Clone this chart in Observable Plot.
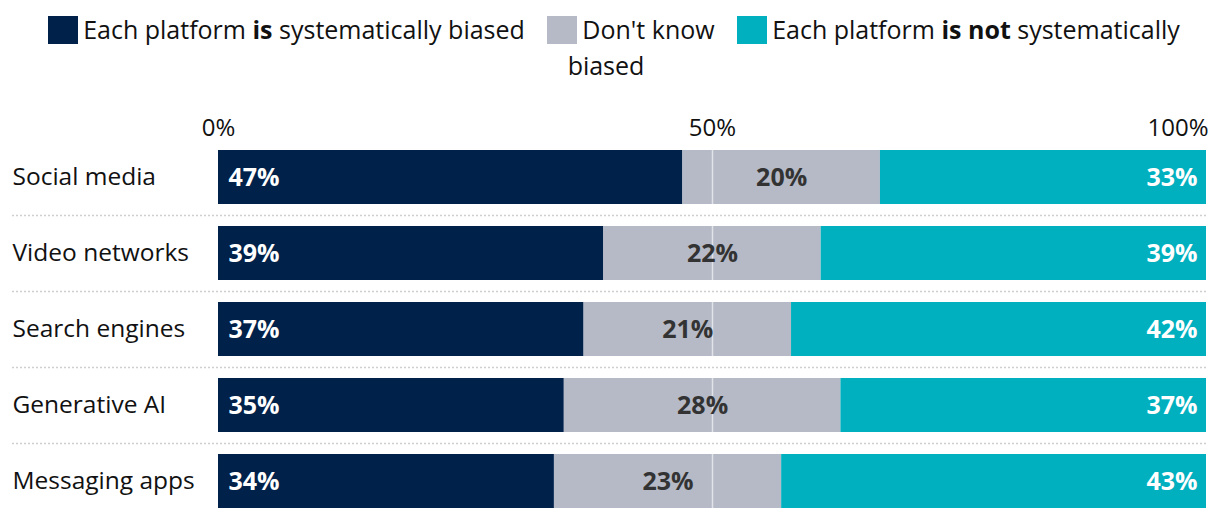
<!DOCTYPE html>
<html>
<head>
<meta charset="utf-8">
<script src="https://cdn.jsdelivr.net/npm/d3@7"></script>
<script src="https://cdn.jsdelivr.net/npm/@observablehq/plot@0.6"></script>
<style>
  body { margin: 0; background: #fff; font-family: "Open Sans", Roboto, sans-serif; color: #111; }
  #legend { width: 1220px; height: 100px; box-sizing: border-box; padding-top: 11px; text-align: center; font-size: 25px; line-height: 36px; }
  .item { white-space: nowrap; margin: 0 8px; }
  .sw { display: inline-block; width: 30px; height: 28px; vertical-align: -5px; margin-right: 5px; }
  #chart svg { display: block; }
</style>
</head>
<body>
<div id="legend"></div>
<div id="chart"></div>
<script>
const categories = ["Social media", "Video networks", "Search engines", "Generative AI", "Messaging apps"];
const isBiased = [47, 39, 37, 35, 34];
const dontKnow = [20, 22, 21, 28, 23];
const notBiased = [33, 39, 42, 37, 43];
const seriesNames = ["Each platform is systematically biased", "Don't know", "Each platform is not systematically biased"];
const legendLabels = ["Each platform <b>is</b> systematically biased", "Don't know", "Each platform <b>is not</b> systematically<br>biased"];
const colors = ["#00214a", "#b5bac6", "#00b0bf"];
const xTicks = [0, 50, 100];

// legend
const legend = document.getElementById("legend");
legend.innerHTML = seriesNames.map((s, i) =>
  `<span class="item"><span class="sw" style="background:${colors[i]}"></span>${legendLabels[i]}</span>`
).join(" ");

// table
const rows = [];
categories.forEach((c, i) => {
  const vals = [isBiased[i], dontKnow[i], notBiased[i]];
  let acc = 0;
  vals.forEach((v, j) => {
    rows.push({category: c, series: seriesNames[j], value: v, x1: acc, x2: acc + v, mid: acc + v / 2});
    acc += v;
  });
});
const byS = (j) => rows.filter(r => r.series === seriesNames[j]);

const font = "'Open Sans', Roboto, sans-serif";
const chart = Plot.plot({
  width: 1220,
  height: 420,
  marginLeft: 218,
  marginRight: 14,
  marginTop: 39,
  marginBottom: 1,
  style: {fontFamily: font, fontSize: "24px", background: "white"},
  x: {domain: [0, 100], axis: null},
  y: {domain: categories, paddingInner: 0.29, paddingOuter: 0.145, axis: null},
  color: {domain: seriesNames, range: colors},
  marks: [
    Plot.ruleY(categories.slice(0, -1), {y: d => d, dy: 38, insetLeft: -206, stroke: "#cfcfcf", strokeWidth: 1.5, strokeDasharray: "2,2"}),
    Plot.barX(rows, {x1: "x1", x2: "x2", y: "category", fill: "series"}),
    Plot.tickX(categories, {x: () => 50, y: d => d, stroke: "#e2e3e8", strokeWidth: 1.5}),
    Plot.text(categories, {y: d => d, text: d => d, frameAnchor: "left", dx: -206, textAnchor: "start", fill: "#111", fontSize: 24.5}),
    Plot.text(xTicks.filter(t => t < 100), {x: d => d, text: d => d + "%", frameAnchor: "top", dy: -21, fill: "#111", fontSize: 24}),
    Plot.text(xTicks.filter(t => t === 100), {x: d => d, text: d => d + "%", frameAnchor: "top", dy: -21, dx: 2, textAnchor: "end", fill: "#111", fontSize: 24}),
    Plot.text(byS(0), {x: "x1", y: "category", text: d => d.value + "%", textAnchor: "start", dx: 10, fill: "white", fontWeight: "bold", fontSize: 25}),
    Plot.text(byS(1), {x: "mid", y: "category", text: d => d.value + "%", fill: "#333", fontWeight: "bold", fontSize: 25}),
    Plot.text(byS(2), {x: "x2", y: "category", text: d => d.value + "%", textAnchor: "end", dx: -9, fill: "white", fontWeight: "bold", fontSize: 25})
  ]
});
document.getElementById("chart").appendChild(chart);
</script>
</body>
</html>
